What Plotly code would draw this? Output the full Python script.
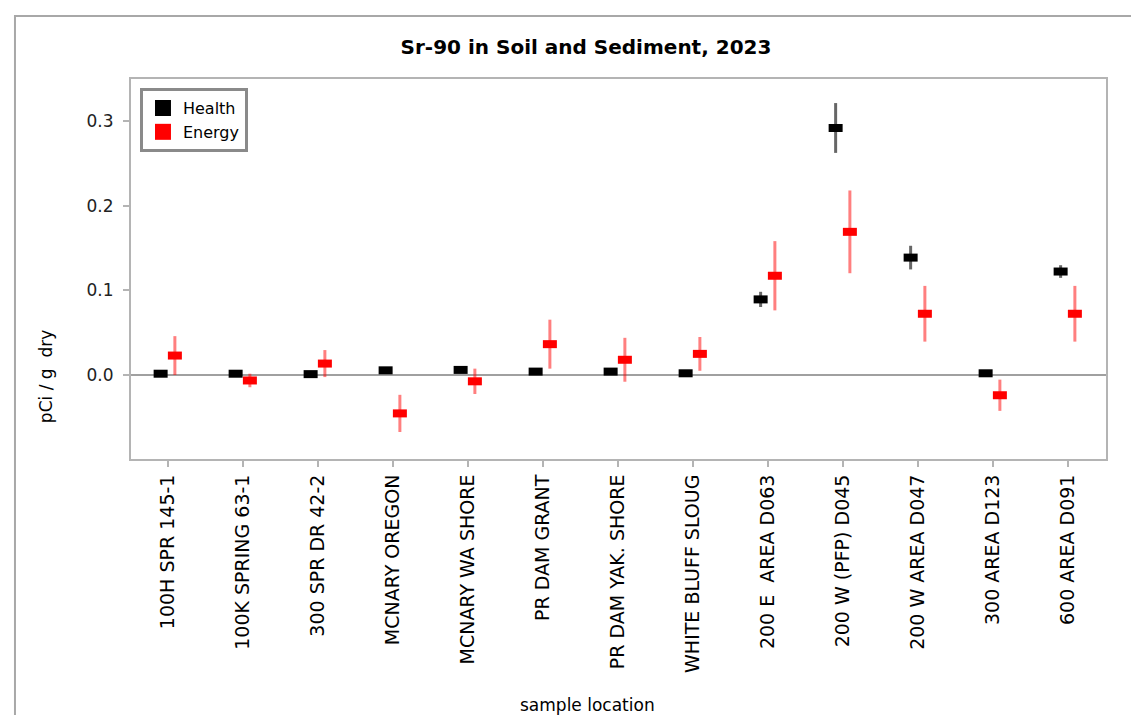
import plotly.graph_objects as go

locations = ["100H SPR 145-1", "100K SPRING 63-1", "300 SPR DR 42-2", "MCNARY OREGON",
             "MCNARY WA SHORE", "PR DAM GRANT", "PR DAM YAK. SHORE", "WHITE BLUFF SLOUG",
             "200 E  AREA D063", "200 W (PFP) D045", "200 W AREA D047", "300 AREA D123",
             "600 AREA D091"]
health = [0.001, 0.001, 0.0005, 0.005, 0.0055, 0.0035, 0.0035, 0.0015, 0.089, 0.292, 0.1385, 0.0015, 0.122]
health_err = [0.002, 0.002, 0.002, 0.003, 0.003, 0.002, 0.002, 0.002, 0.009, 0.0295, 0.014, 0.002, 0.0075]
energy = [0.0225, -0.007, 0.013, -0.046, -0.008, 0.036, 0.0175, 0.0245, 0.117, 0.169, 0.072, -0.0245, 0.072]
energy_err = [0.023, 0.008, 0.016, 0.022, 0.015, 0.029, 0.026, 0.02, 0.041, 0.049, 0.033, 0.0185, 0.033]
y_ticks = [0.0, 0.1, 0.2, 0.3]

FONT = "DejaVu Sans"
idx = list(range(len(locations)))
off = 0.095

fig = go.Figure()
fig.add_trace(go.Scatter(
    x=[i - off for i in idx], y=health, mode="markers", name="Health", showlegend=False,
    error_y=dict(type="data", array=health_err, visible=True, color="rgba(0,0,0,0.6)",
                 thickness=3, width=0),
    marker=dict(symbol="line-ew", size=10, color="black", line=dict(width=8, color="black")),
))
fig.add_trace(go.Scatter(
    x=[i + off for i in idx], y=energy, mode="markers", name="Energy", showlegend=False,
    error_y=dict(type="data", array=energy_err, visible=True, color="rgba(255,0,0,0.5)",
                 thickness=3, width=0),
    marker=dict(symbol="line-ew", size=10, color="red", line=dict(width=8, color="red")),
))
# legend entries
fig.add_trace(go.Scatter(x=[None], y=[None], mode="markers", name="Health",
                         marker=dict(symbol="square", size=22, color="black")))
fig.add_trace(go.Scatter(x=[None], y=[None], mode="markers", name="Energy",
                         marker=dict(symbol="square", size=22, color="red")))

axis_common = dict(showline=True, mirror=True, linecolor="#b4b4b4", linewidth=2,
                   ticks="outside", ticklen=6, tickcolor="#b4b4b4", tickwidth=2,
                   showgrid=False)
fig.update_layout(
    width=1139, height=715,
    margin=dict(l=123, r=41, t=71, b=264),
    paper_bgcolor="white", plot_bgcolor="white",
    font=dict(family=FONT, size=16, color="black"),
    title=dict(text="<b>Sr-90 in Soil and Sediment, 2023</b>", x=578 / 1139, xref="container",
               xanchor="center", y=1 - 39 / 715, yref="container", yanchor="middle",
               font=dict(family=FONT, size=20, color="black")),
    xaxis=dict(range=[-0.49, len(locations) - 1 + 0.51], tickmode="array", tickvals=idx,
               ticktext=locations, tickangle=-90, tickfont=dict(size=19, color="black"),
               zeroline=False, **axis_common),
    yaxis=dict(range=[-0.1, 0.35], tickmode="array", tickvals=y_ticks, tickformat=".1f",
               tickfont=dict(size=17, color="#222"), ticklabelstandoff=6,
               zeroline=True, zerolinecolor="#a0a0a0", zerolinewidth=1.5, **axis_common),
    legend=dict(x=0.0092, y=0.976, xanchor="left", yanchor="top", bgcolor="white",
                bordercolor="#8a8a8a", borderwidth=3, font=dict(size=16, color="black"),
                itemsizing="trace", tracegroupgap=0),
    annotations=[
        dict(text="pCi / g  dry", xref="paper", yref="paper", x=-0.0872, y=0.218,
             textangle=-90, showarrow=False, font=dict(size=17, color="black"),
             xanchor="center", yanchor="middle"),
        dict(text="sample location", xref="paper", yref="paper", x=0.4687, y=-0.647,
             showarrow=False, font=dict(size=17, color="black"),
             xanchor="center", yanchor="middle"),
    ],
    shapes=[dict(type="rect", xref="paper", yref="paper", x0=-0.119, x1=1.0338,
                 y0=-0.70, y1=1.1658, line=dict(color="#a8a8a8", width=2),
                 fillcolor="rgba(0,0,0,0)", layer="below")],
)
fig.write_html("out.html")
